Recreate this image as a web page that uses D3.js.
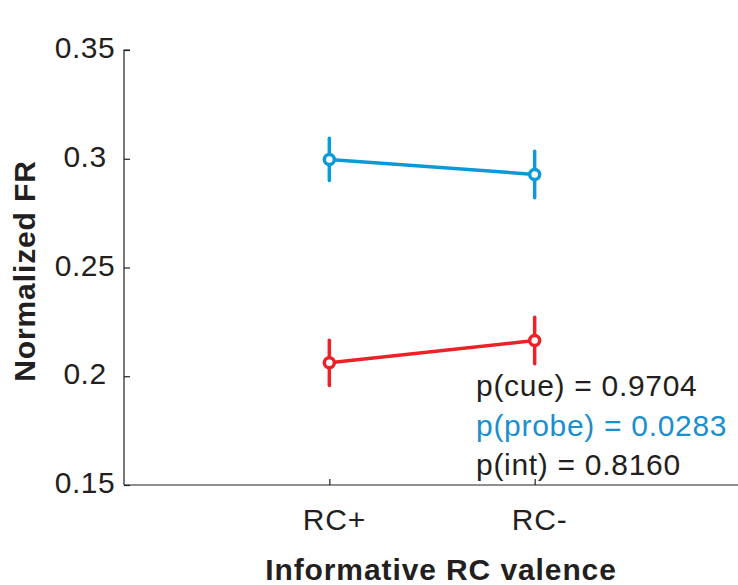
<!DOCTYPE html>
<html>
<head>
<meta charset="utf-8">
<script src="https://cdn.jsdelivr.net/npm/d3@7"></script>
<style>
  body { margin: 0; background: #fff; }
  text { font-family: "Liberation Sans", Arial, Helvetica, sans-serif; }
</style>
</head>
<body>
<div id="chart"></div>
<script>
const categories = ["RC+", "RC-"];
const yTicks = [0.15, 0.2, 0.25, 0.3, 0.35];

const blueMean = [0.2997, 0.2928];
const blueErr = [0.0097, 0.0107];
const redMean = [0.2062, 0.2164];
const redErr = [0.0104, 0.0107];

const stats = [
  { label: "p(cue) = 0.9704", color: "#231f20" },
  { label: "p(probe) = 0.0283", color: "#1a8fd0" },
  { label: "p(int) = 0.8160", color: "#231f20" }
];

const width = 738, height = 585;
const margin = { top: 50, right: 0, bottom: 100, left: 124 };

const svg = d3.select("#chart")
  .append("svg")
  .attr("width", width)
  .attr("height", height);

const x = d3.scaleLinear()
  .domain([0, categories.length + 1])
  .range([margin.left, width + 2]);

const y = d3.scaleLinear()
  .domain([0.15, 0.35])
  .range([height - margin.bottom, margin.top]);

// y axis, ticks inward
const yAxis = svg.append("g")
  .attr("transform", `translate(${margin.left},0)`)
  .call(d3.axisRight(y).tickValues(yTicks).tickSize(6).tickFormat(""));
yAxis.select(".domain").attr("d", `M6,${y(0.35)}H0V${y(0.15)}`);
yAxis.selectAll("line, path").attr("stroke", "#231f20").attr("stroke-width", 1.2);

svg.selectAll(".ytick")
  .data(yTicks)
  .join("text")
  .attr("class", "ytick")
  .attr("x", 85)
  .attr("y", d => y(d) + 8)
  .attr("text-anchor", "middle")
  .style("font-size", "30px")
  .style("letter-spacing", "0.5px")
  .attr("fill", "#231f20")
  .text(d => d3.format("")(d));

// x axis, ticks inward
const xAxis = svg.append("g")
  .attr("transform", `translate(0,${y(0.15)})`)
  .call(d3.axisTop(x).tickValues([1, 2]).tickSize(6).tickFormat(""));
xAxis.select(".domain").attr("d", `M${margin.left},0H${width + 2}`);
xAxis.selectAll("line, path").attr("stroke", "#231f20").attr("stroke-width", 1.2);

svg.selectAll(".xtick")
  .data(categories)
  .join("text")
  .attr("class", "xtick")
  .attr("x", (d, i) => x(i + 1) + 5)
  .attr("y", 530)
  .attr("text-anchor", "middle")
  .style("font-size", "30px")
  .style("letter-spacing", "0.8px")
  .attr("fill", "#231f20")
  .text(d => d);

// axis titles
svg.append("text")
  .attr("x", 441)
  .attr("y", 580)
  .attr("text-anchor", "middle")
  .style("font-size", "30px")
  .style("font-weight", "bold")
  .style("letter-spacing", "0.9px")
  .attr("fill", "#231f20")
  .text("Informative RC valence");

svg.append("text")
  .attr("transform", `translate(35,271) rotate(-90)`)
  .attr("text-anchor", "middle")
  .style("font-size", "30px")
  .style("font-weight", "bold")
  .style("letter-spacing", "0.9px")
  .attr("fill", "#231f20")
  .text("Normalized FR");

// series
function drawSeries(means, errs, color) {
  const pts = means.map((m, i) => ({ i: i + 1, m, e: errs[i] }));
  const g = svg.append("g");
  g.append("path")
    .datum(pts)
    .attr("fill", "none")
    .attr("stroke", color)
    .attr("stroke-width", 3.5)
    .attr("d", d3.line().x(d => x(d.i)).y(d => y(d.m)));
  g.selectAll(".err")
    .data(pts)
    .join("line")
    .attr("x1", d => x(d.i))
    .attr("x2", d => x(d.i))
    .attr("y1", d => y(d.m - d.e))
    .attr("y2", d => y(d.m + d.e))
    .attr("stroke", color)
    .attr("stroke-width", 3.5)
    .attr("stroke-linecap", "round");
  g.selectAll(".pt")
    .data(pts)
    .join("circle")
    .attr("cx", d => x(d.i))
    .attr("cy", d => y(d.m))
    .attr("r", 5)
    .attr("fill", "#fff")
    .attr("stroke", color)
    .attr("stroke-width", 3.5);
}

drawSeries(blueMean, blueErr, "#0b9ad8");
drawSeries(redMean, redErr, "#ec2228");

// stats text
svg.selectAll(".stat")
  .data(stats)
  .join("text")
  .attr("class", "stat")
  .attr("x", 476)
  .attr("y", (d, i) => 396 + i * 39.5)
  .style("font-size", "30px")
  .style("letter-spacing", "0.7px")
  .attr("fill", d => d.color)
  .text(d => d.label);
</script>
</body>
</html>
